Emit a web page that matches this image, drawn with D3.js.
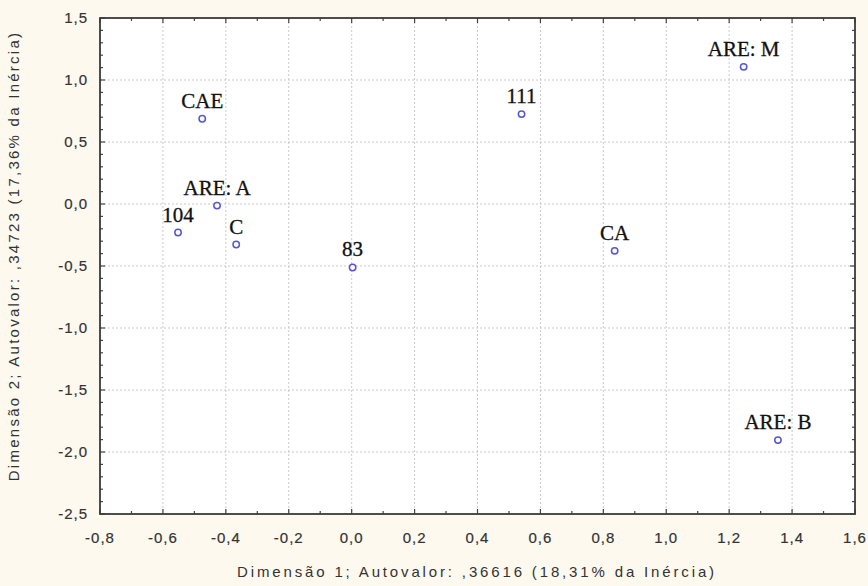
<!DOCTYPE html>
<html>
<head>
  <meta charset="utf-8" />
  <title>Dimensões</title>
  <style>
    body { margin: 0; background: #fdf9ef; }
    svg { display: block; }
    .tick-label { font-family: "Liberation Sans", Arial, sans-serif; font-size: 15px; fill: #333; letter-spacing: 1px; stroke: #333; stroke-width: 0.2px; }
    .axis-title { font-family: "Liberation Sans", Arial, sans-serif; font-size: 15px; fill: #333; }
    .pt-label { font-family: "Liberation Serif", "Times New Roman", serif; font-size: 21px; fill: #111; stroke: #111; stroke-width: 0.3px; }
  </style>
  <script src="https://cdnjs.cloudflare.com/ajax/libs/d3/7.8.5/d3.min.js"></script>
</head>
<body>
  <div id="chart"></div>
  <script>
    var labels = ['CAE', 'ARE: A', '104', 'C', '83', '111', 'CA', 'ARE: M', 'ARE: B'];
    var dim1 = [-0.475, -0.428, -0.552, -0.367, 0.003, 0.54, 0.836, 1.246, 1.355];
    var dim2 = [0.687, -0.013, -0.23, -0.327, -0.512, 0.725, -0.378, 1.106, -1.904];
    var xTicks = [-0.8, -0.6, -0.4, -0.2, 0.0, 0.2, 0.4, 0.6, 0.8, 1.0, 1.2, 1.4, 1.6];
    var yTicks = [-2.5, -2.0, -1.5, -1.0, -0.5, 0.0, 0.5, 1.0, 1.5];
    var xTitle = 'Dimensão 1; Autovalor: ,36616 (18,31% da Inércia)';
    var yTitle = 'Dimensão 2; Autovalor: ,34723 (17,36% da Inércia)';

    var W = 868, H = 586;
    var pLeft = 100, pRight = 855, pTop = 18, pBottom = 514;

    var x = d3.scaleLinear().domain([-0.8, 1.6]).range([pLeft, pRight]);
    var y = d3.scaleLinear().domain([-2.5, 1.5]).range([pBottom, pTop]);

    var fmt = function (v) { return d3.format('.1f')(v).replace('.', ',').replace('−', '-'); };

    var svg = d3.select('#chart').append('svg')
      .attr('width', W)
      .attr('height', H);

    svg.append('rect')
      .attr('x', pLeft).attr('y', pTop)
      .attr('width', pRight - pLeft).attr('height', pBottom - pTop)
      .attr('fill', '#fff');

    // grid
    svg.selectAll('.gx')
      .data(xTicks.slice(1, -1))
      .enter().append('line')
      .attr('x1', d => x(d)).attr('x2', d => x(d))
      .attr('y1', pTop).attr('y2', pBottom)
      .attr('stroke', '#c9c9c9').attr('stroke-dasharray', '2,2');

    svg.selectAll('.gy')
      .data(yTicks.slice(1, -1))
      .enter().append('line')
      .attr('y1', d => y(d)).attr('y2', d => y(d))
      .attr('x1', pLeft).attr('x2', pRight)
      .attr('stroke', '#c9c9c9').attr('stroke-dasharray', '2,2');

    // inner ticks, all four sides
    var xMinor = d3.range(-0.8, 1.6001, 0.1);
    var yMinor = d3.range(-2.5, 1.5001, 0.1);
    var tickG = svg.append('g').attr('stroke', '#444').attr('stroke-width', 1.2);
    xMinor.forEach(function (v, i) {
      var len = i % 2 === 0 ? 5 : 3;
      tickG.append('line').attr('x1', x(v)).attr('x2', x(v)).attr('y1', pBottom).attr('y2', pBottom - len);
      tickG.append('line').attr('x1', x(v)).attr('x2', x(v)).attr('y1', pTop).attr('y2', pTop + len);
    });
    yMinor.forEach(function (v, i) {
      var len = i % 5 === 0 ? 5 : 3;
      tickG.append('line').attr('y1', y(v)).attr('y2', y(v)).attr('x1', pLeft).attr('x2', pLeft + len);
      tickG.append('line').attr('y1', y(v)).attr('y2', y(v)).attr('x1', pRight).attr('x2', pRight - len);
    });

    svg.append('rect')
      .attr('x', pLeft).attr('y', pTop)
      .attr('width', pRight - pLeft).attr('height', pBottom - pTop)
      .attr('fill', 'none').attr('stroke', '#3a3a3a').attr('stroke-width', 1.8);

    // tick labels
    svg.selectAll('.xl')
      .data(xTicks)
      .enter().append('text')
      .attr('class', 'tick-label')
      .attr('x', d => x(d))
      .attr('y', pBottom + 29)
      .attr('text-anchor', 'middle')
      .text(fmt);

    svg.selectAll('.yl')
      .data(yTicks)
      .enter().append('text')
      .attr('class', 'tick-label')
      .attr('x', pLeft - 12)
      .attr('y', d => y(d) + 5)
      .attr('text-anchor', 'end')
      .text(fmt);

    // titles
    svg.append('text')
      .attr('class', 'axis-title')
      .attr('x', 477)
      .attr('y', 577)
      .attr('text-anchor', 'middle')
      .style('letter-spacing', '2.85px')
      .text(xTitle);

    svg.append('text')
      .attr('class', 'axis-title')
      .attr('transform', 'translate(19,256) rotate(-90)')
      .attr('text-anchor', 'middle')
      .style('letter-spacing', '2.25px')
      .text(yTitle);

    // points
    var pts = labels.map(function (l, i) { return { label: l, a: dim1[i], b: dim2[i] }; });

    svg.selectAll('.pt')
      .data(pts)
      .enter().append('circle')
      .attr('cx', d => x(d.a))
      .attr('cy', d => y(d.b))
      .attr('r', 3.2)
      .attr('fill', '#fff')
      .attr('stroke', '#5656d6')
      .attr('stroke-width', 1.5);

    svg.selectAll('.pl')
      .data(pts)
      .enter().append('text')
      .attr('class', 'pt-label')
      .attr('x', d => x(d.a))
      .attr('y', d => y(d.b) - 11)
      .attr('text-anchor', 'middle')
      .text(d => d.label);
  </script>
</body>
</html>
